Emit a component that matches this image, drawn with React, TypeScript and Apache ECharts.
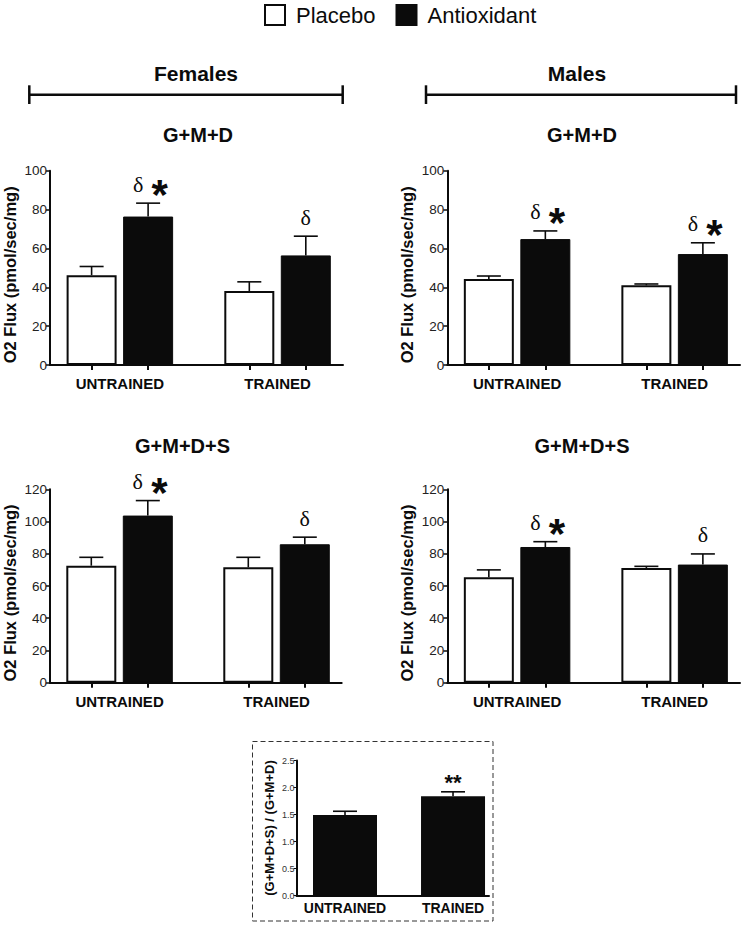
import React, { useEffect, useRef } from "react";
import * as echarts from "echarts";

// ---------- data ----------
const groups = ["UNTRAINED", "TRAINED"];
const legendNames = ["Placebo", "Antioxidant"];

const femaleGMDPlacebo = [46.2, 38.1];
const femaleGMDPlaceboErr = [4.5, 4.7];
const femaleGMDAntiox = [76.4, 56.4];
const femaleGMDAntioxErr = [6.9, 9.9];
const femaleGMDMarks = ["δ*", "δ"];

const maleGMDPlacebo = [44.3, 41.0];
const maleGMDPlaceboErr = [1.5, 0.7];
const maleGMDAntiox = [64.8, 57.1];
const maleGMDAntioxErr = [4.2, 5.8];
const maleGMDMarks = ["δ*", "δ*"];

const femaleGMDSPlacebo = [72.6, 71.6];
const femaleGMDSPlaceboErr = [5.2, 6.2];
const femaleGMDSAntiox = [103.7, 85.9];
const femaleGMDSAntioxErr = [9.3, 4.4];
const femaleGMDSMarks = ["δ*", "δ"];

const maleGMDSPlacebo = [65.4, 71.2];
const maleGMDSPlaceboErr = [4.6, 1.0];
const maleGMDSAntiox = [84.2, 73.3];
const maleGMDSAntioxErr = [3.3, 6.6];
const maleGMDSMarks = ["δ*", "δ"];

const ratioValues = [1.49, 1.84];
const ratioErr = [0.07, 0.08];
const ratioMarks = ["", "**"];

const fluxAxisName = "O2 Flux (pmol/sec/mg)";
const ratioAxisName = "(G+M+D+S) / (G+M+D)";
const panelTitles = ["G+M+D", "G+M+D", "G+M+D+S", "G+M+D+S"];
const sexHeadings = ["Females", "Males"];
const fluxMaxTop = 100;
const fluxMaxBottom = 120;
const fluxInterval = 20;
const ratioMax = 2.5;
const ratioInterval = 0.5;

// ---------- styles ----------
const SANS = '"Liberation Sans", Arial, Helvetica, sans-serif';
const SERIF = '"Liberation Serif", "Times New Roman", serif';
const INK = "#0b0b0b";
const BAR_W = 50;
const BAR_OFF = 28.25; // px from group centre to bar centre
const X_MIN = -0.443;
const X_MAX = 1.415;
const PX_PER_UNIT = 158;
const TICK_OFF = BAR_OFF / PX_PER_UNIT;

function markChildren(mark: string, cx: number, topY: number) {
  const out: any[] = [];
  if (mark === "δ*") {
    out.push({
      type: "text", x: cx - 10, y: topY - 19,
      style: { text: "δ", fontSize: 22, fontFamily: SERIF, fill: INK, align: "center", verticalAlign: "middle" },
    });
    out.push({
      type: "text", x: cx + 11.5, y: topY - 8.5,
      style: { text: "*", fontSize: 42, fontWeight: "bold", fontFamily: SANS, fill: INK, align: "center", verticalAlign: "middle" },
    });
  } else if (mark === "δ") {
    out.push({
      type: "text", x: cx, y: topY - 19,
      style: { text: "δ", fontSize: 22, fontFamily: SERIF, fill: INK, align: "center", verticalAlign: "middle" },
    });
  } else if (mark === "**") {
    out.push({
      type: "text", x: cx, y: topY - 9,
      style: { text: "**", fontSize: 22, fontWeight: "bold", fontFamily: SANS, fill: INK, align: "center", verticalAlign: "middle" },
    });
  }
  return out;
}

function errorSeries(gridIndex: number, values: number[], errs: number[], marks: string[], offsetPx: number, capW: number) {
  return {
    type: "custom",
    name: "err" + gridIndex + "_" + offsetPx,
    xAxisIndex: gridIndex,
    yAxisIndex: gridIndex,
    clip: false,
    z: 5,
    silent: true,
    data: values.map((v, i) => [i, v, errs[i]]),
    renderItem: (params: any, api: any) => {
      const x = api.value(0);
      const v = api.value(1);
      const e = api.value(2);
      const base = api.coord([x, v]);
      const top = api.coord([x, v + e]);
      const cx = base[0] + offsetPx;
      const children: any[] = [
        { type: "line", shape: { x1: cx, y1: base[1], x2: cx, y2: top[1] }, style: { stroke: INK, lineWidth: 1.6 } },
        { type: "line", shape: { x1: cx - capW / 2, y1: top[1], x2: cx + capW / 2, y2: top[1] }, style: { stroke: INK, lineWidth: 1.6 } },
      ];
      const mark = marks[params.dataIndex] || "";
      children.push(...markChildren(mark, cx, top[1]));
      return { type: "group", children };
    },
  };
}

const panels = [
  { left: 49, top: 170.7, width: 294, height: 194.3, max: fluxMaxTop, p: femaleGMDPlacebo, pe: femaleGMDPlaceboErr, a: femaleGMDAntiox, ae: femaleGMDAntioxErr, m: femaleGMDMarks },
  { left: 447.3, top: 170.7, width: 292.7, height: 194.3, max: fluxMaxTop, p: maleGMDPlacebo, pe: maleGMDPlaceboErr, a: maleGMDAntiox, ae: maleGMDAntioxErr, m: maleGMDMarks },
  { left: 49, top: 489.3, width: 292.7, height: 193.4, max: fluxMaxBottom, p: femaleGMDSPlacebo, pe: femaleGMDSPlaceboErr, a: femaleGMDSAntiox, ae: femaleGMDSAntioxErr, m: femaleGMDSMarks },
  { left: 447.3, top: 489.3, width: 292.7, height: 193.4, max: fluxMaxBottom, p: maleGMDSPlacebo, pe: maleGMDSPlaceboErr, a: maleGMDSAntiox, ae: maleGMDSAntioxErr, m: maleGMDSMarks },
];

function buildOption() {
  const grid: any[] = [];
  const xAxis: any[] = [];
  const yAxis: any[] = [];
  const series: any[] = [];

  panels.forEach((pn, gi) => {
    grid.push({ left: pn.left, top: pn.top, width: pn.width, height: pn.height, containLabel: false });
    xAxis.push({
      type: "value", gridIndex: gi, min: X_MIN, max: X_MAX,
      axisLine: { show: true, onZero: false, lineStyle: { color: INK, width: 2 } },
      axisTick: { show: true, customValues: [-TICK_OFF, TICK_OFF, 1 - TICK_OFF, 1 + TICK_OFF], length: 5, lineStyle: { color: INK, width: 2 } },
      axisLabel: {
        customValues: [0, 1],
        formatter: (v: number) => groups[Math.round(v)] ?? "",
        margin: 11, fontSize: 15, fontWeight: "bold", fontFamily: SANS, color: INK,
      },
      splitLine: { show: false },
    });
    yAxis.push({
      type: "value", gridIndex: gi, min: 0, max: pn.max, interval: fluxInterval,
      name: fluxAxisName, nameLocation: "middle", nameGap: 32, nameRotate: 90,
      nameTextStyle: { fontSize: 16.5, fontWeight: "bold", fontFamily: SANS, color: INK, padding: [0, 14, 0, 0] },
      axisLine: { show: true, onZero: false, lineStyle: { color: INK, width: 2 } },
      axisTick: { show: true, length: 4, lineStyle: { color: INK, width: 1.5 } },
      axisLabel: { margin: 3, fontSize: 13.5, fontFamily: SANS, color: "#222" },
      splitLine: { show: false },
    });
    series.push({
      type: "bar", name: legendNames[0], xAxisIndex: gi, yAxisIndex: gi,
      data: pn.p.map((v, i) => [i, v]), barWidth: BAR_W, barGap: "13%",
      itemStyle: { color: "#ffffff", borderColor: INK, borderWidth: 2 },
      z: 2,
    });
    series.push({
      type: "bar", name: legendNames[1], xAxisIndex: gi, yAxisIndex: gi,
      data: pn.a.map((v, i) => [i, v]), barWidth: BAR_W, barGap: "13%",
      itemStyle: { color: INK, borderColor: INK, borderWidth: 1 },
      z: 2,
    });
    series.push(errorSeries(gi, pn.p, pn.pe, ["", ""], -BAR_OFF, 24));
    series.push(errorSeries(gi, pn.a, pn.ae, pn.m, BAR_OFF, 24));
  });

  // inset ratio chart
  const ig = panels.length;
  grid.push({ left: 296.5, top: 760.5, width: 192.5, height: 135, containLabel: false });
  xAxis.push({
    type: "value", gridIndex: ig, min: -0.449, max: 1.333,
    axisLine: { show: true, onZero: false, lineStyle: { color: INK, width: 2 } },
    axisTick: { show: false },
    axisLabel: {
      customValues: [0, 1],
      formatter: (v: number) => groups[Math.round(v)] ?? "",
      margin: 5, fontSize: 14, fontWeight: "bold", fontFamily: SANS, color: INK,
    },
    splitLine: { show: false },
  });
  yAxis.push({
    type: "value", gridIndex: ig, min: 0, max: ratioMax, interval: ratioInterval,
    name: ratioAxisName, nameLocation: "middle", nameGap: 21, nameRotate: 90,
    nameTextStyle: { fontSize: 13, fontWeight: "bold", fontFamily: SANS, color: INK },
    axisLine: { show: true, onZero: false, lineStyle: { color: INK, width: 2 } },
    axisTick: { show: true, length: 3, lineStyle: { color: INK, width: 1 } },
    axisLabel: { margin: 2, fontSize: 9, fontFamily: SANS, color: "#333", formatter: (v: number) => v.toFixed(1) },
    splitLine: { show: false },
  });
  series.push({
    type: "bar", name: "Ratio", xAxisIndex: ig, yAxisIndex: ig,
    data: ratioValues.map((v, i) => [i, v]), barWidth: 64,
    itemStyle: { color: INK }, z: 2,
  });
  series.push(errorSeries(ig, ratioValues, ratioErr, ratioMarks, 0, 24));

  const graphic: any[] = [];
  // headings with brackets
  const brackets = [
    { x1: 29.3, x2: 342.7, tx: 196 },
    { x1: 426, x2: 736, tx: 577 },
  ];
  brackets.forEach((b, i) => {
    graphic.push({
      type: "text", x: b.tx, y: 73,
      style: { text: sexHeadings[i], fontSize: 21, fontWeight: "bold", fontFamily: SANS, fill: INK, align: "center", verticalAlign: "middle" },
    });
    graphic.push({ type: "line", shape: { x1: b.x1, y1: 94.7, x2: b.x2, y2: 94.7 }, style: { stroke: INK, lineWidth: 2.5 } });
    graphic.push({ type: "line", shape: { x1: b.x1, y1: 85.3, x2: b.x1, y2: 104 }, style: { stroke: INK, lineWidth: 2.5 } });
    graphic.push({ type: "line", shape: { x1: b.x2, y1: 85.3, x2: b.x2, y2: 104 }, style: { stroke: INK, lineWidth: 2.5 } });
  });
  const titlePos = [
    { x: 198, y: 135 },
    { x: 582, y: 135 },
    { x: 182.5, y: 446 },
    { x: 582, y: 446 },
  ];
  titlePos.forEach((p, i) => {
    graphic.push({
      type: "text", x: p.x, y: p.y,
      style: { text: panelTitles[i], fontSize: 20, fontWeight: "bold", fontFamily: SANS, fill: INK, align: "center", verticalAlign: "middle" },
    });
  });
  graphic.push({
    type: "rect", shape: { x: 252.5, y: 741.5, width: 240.5, height: 179.5 },
    style: { fill: "none", stroke: "#333", lineWidth: 1, lineDash: [5, 3] },
  });

  return {
    animation: false,
    backgroundColor: "#ffffff",
    legend: {
      data: legendNames, left: 264, top: 4, padding: 0,
      itemWidth: 20, itemHeight: 20, itemGap: 20, icon: "rect", selectedMode: false,
      textStyle: { fontSize: 22, fontFamily: SANS, color: INK, padding: [0, 0, 0, 6] },
    },
    grid, xAxis, yAxis, series, graphic,
  };
}

export default function App() {
  const ref = useRef<HTMLDivElement>(null);
  useEffect(() => {
    if (!ref.current) return;
    const chart = echarts.init(ref.current, undefined, { renderer: "svg" });
    chart.setOption(buildOption() as any);
    return () => chart.dispose();
  }, []);
  return (
    <div
      ref={ref}
      style={{ position: "absolute", left: 0, top: 0, width: 745, height: 928, background: "#fff" }}
    />
  );
}
